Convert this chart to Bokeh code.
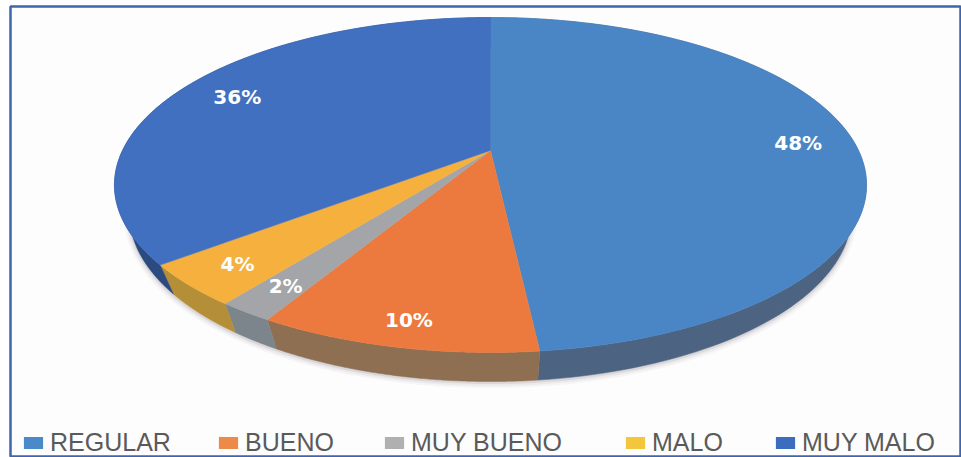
import numpy as np
from bokeh.plotting import figure
from bokeh.models import Range1d, Legend, LegendItem
from bokeh.core.properties import value
from bokeh.embed import file_html
from bokeh.resources import INLINE

categories = ["REGULAR", "BUENO", "MUY BUENO", "MALO", "MUY MALO"]
shares = [48.3, 10.0, 2.0, 4.0, 35.7]
labels = ["48%", "10%", "2%", "4%", "36%"]

top_colors = ["#4a86c6", "#ec7a3e", "#a3a5a8", "#f6b03e", "#4270c0"]
side_colors = ["#4c6482", "#8f6f52", "#7c848c", "#b58f38", "#2a4a80"]
legend_colors = ["#4a8ac8", "#ee8a48", "#b0b0b0", "#f4c63c", "#3a6cc0"]
label_radius = [0.845, 0.885, 0.86, 0.86, 0.82]
legend_x = [11, 206, 372, 613, 763]

W, H = 961, 457
CX, CY, AX, AY, K = 490, 150, 368, 160.4, 0.206
DEPTH, SHRINK = 29, 0.96


def project(theta, r=1.0):
    u, v = r * np.sin(theta), r * np.cos(theta)
    d = 1 + K * v
    return CX + AX * u / d, CY - AY * v / d


def lower(x, y):
    return CX + (x - CX) * SHRINK, y + DEPTH


p = figure(width=W, height=H, x_range=Range1d(10, W - 1), y_range=Range1d(456, 6),
           output_backend="svg", toolbar_location=None,
           min_border_left=10, min_border_top=6, min_border_right=1, min_border_bottom=1,
           background_fill_color="#fdfdfd", border_fill_color="#ffffff")
p.xaxis.visible = False
p.yaxis.visible = False
p.grid.visible = False
p.outline_line_color = "#3f66ac"
p.outline_line_width = 2.5

edges = 2 * np.pi * np.concatenate([[0], np.cumsum(shares)]) / sum(shares)

# soft shadow under the rim
t = np.linspace(np.pi * 0.55, np.pi * 1.5, 200)
sx, sy = lower(*project(t))
for w, a in [(11, 0.05), (7, 0.08), (3, 0.14)]:
    p.line(sx, sy + 1, line_color="#706a70", line_width=w, line_alpha=a)

# extruded sides
for i in range(len(shares)):
    t = np.linspace(edges[i], edges[i + 1], 120)
    x, y = project(t)
    lx, ly = lower(x, y)
    p.patch(np.r_[x, lx[::-1]], np.r_[y, ly[::-1]], fill_color=side_colors[i],
            line_color=side_colors[i], line_width=0.5)

# top faces
for i in range(len(shares)):
    t = np.linspace(edges[i], edges[i + 1], 160)
    x, y = project(t)
    p.patch(np.r_[CX, x], np.r_[CY, y], fill_color=top_colors[i],
            line_color=top_colors[i], line_width=0.5)

# value labels
for i, lab in enumerate(labels):
    mid = (edges[i] + edges[i + 1]) / 2
    x, y = project(mid, label_radius[i])
    p.text([x], [y], text=[lab], text_color="#ffffff", text_font=value("DejaVu Sans"),
           text_font_style="bold", text_font_size="20px", text_align="center",
           text_baseline="middle")

# legend: one entry per position
for i, name in enumerate(categories):
    sw = p.quad(left=[-100], right=[-90], top=[-100], bottom=[-90],
                fill_color=legend_colors[i], line_color=None)
    lg = Legend(items=[LegendItem(label=name, renderers=[sw])], location=(legend_x[i], -1),
                background_fill_alpha=0, border_line_color=None, padding=0, margin=0,
                glyph_width=24, glyph_height=15, label_standoff=5,
                label_text_font="Liberation Sans", label_text_font_size="25px",
                label_text_color="#5a5a5a", label_height=15)
    p.add_layout(lg)

open("out.html", "w").write(file_html(p, INLINE))
